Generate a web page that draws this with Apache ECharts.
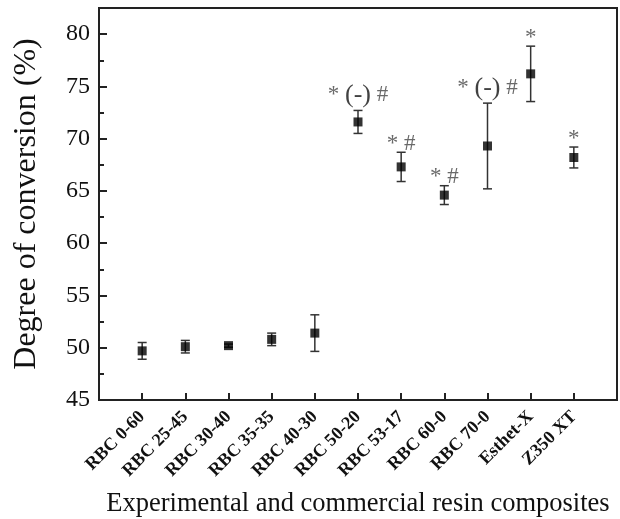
<!DOCTYPE html>
<html>
<head>
<meta charset="utf-8">
<script src="https://cdn.jsdelivr.net/npm/echarts@6/dist/echarts.min.js"></script>
<style>
html,body{margin:0;padding:0;background:#fff;}
#chart{width:620px;height:519px;}
</style>
</head>
<body>
<div id="chart"></div>
<script>
// values
var categories = ["RBC 0-60", "RBC 25-45", "RBC 30-40", "RBC 35-35", "RBC 40-30",
    "RBC 50-20", "RBC 53-17", "RBC 60-0", "RBC 70-0", "Esthet-X", "Z350 XT"];
var conversion = [49.7, 50.1, 50.2, 50.8, 51.4, 71.6, 67.3, 64.6, 69.3, 76.2, 68.2];
var errors = [0.8, 0.6, 0.15, 0.6, 1.75, 1.1, 1.4, 0.9, 4.1, 2.65, 1.0];
var marks = ["", "", "", "", "", "* (-) #", "* #", "* #", "* (-) #", "*", "*"];
var yTicks = [45, 50, 55, 60, 65, 70, 75, 80];

var serif = "Liberation Serif";

var points = [], bars = [], notes = [];
for (var i = 0; i < categories.length; i++) {
    points.push([i + 1, conversion[i]]);
    bars.push([i + 1, conversion[i] - errors[i], conversion[i] + errors[i]]);
    if (marks[i]) {
        // labels without the bracket sit a little lower
        var d = marks[i].indexOf("(-)") >= 0 ? 2 : -3;
        notes.push({value: [i + 1, conversion[i] + errors[i]], mark: marks[i], label: {distance: d}});
    }
}

var chart = echarts.init(document.getElementById("chart"));
chart.setOption({
    animation: false,
    grid: {left: 99, right: 3, top: 8, bottom: 119, outerBoundsMode: "none",
        show: true, borderColor: "#222", borderWidth: 2},
    xAxis: {
        type: "value", min: 0, max: 12, interval: 1,
        name: "Experimental and commercial resin composites",
        nameLocation: "middle", nameGap: 91,
        nameTextStyle: {fontFamily: serif, fontSize: 26.5, color: "#111"},
        axisLine: {lineStyle: {color: "#222", width: 2}},
        axisTick: {inside: true, length: 7, lineStyle: {color: "#222", width: 2}},
        splitLine: {show: false},
        axisLabel: {
            rotate: 45, margin: 14, fontFamily: serif, fontSize: 18, fontWeight: "bold", color: "#111",
            showMinLabel: false, showMaxLabel: false,
            formatter: function (v) { return categories[v - 1] || ""; }
        }
    },
    yAxis: {
        type: "value", min: 45, max: 82.5, interval: 5,
        name: "Degree of conversion (%)",
        nameLocation: "middle", nameGap: 56,
        nameTextStyle: {fontFamily: serif, fontSize: 32, color: "#111"},
        axisLine: {lineStyle: {color: "#222", width: 2}},
        axisTick: {inside: true, length: 8, lineStyle: {color: "#222", width: 2}},
        minorTick: {show: true, splitNumber: 2, length: 5, lineStyle: {color: "#222", width: 2}},
        splitLine: {show: false},
        axisLabel: {
            margin: 9, fontFamily: serif, fontSize: 24, color: "#111",
            formatter: function (v) { return yTicks.indexOf(v) >= 0 ? String(v) : ""; }
        }
    },
    series: [
        {
            type: "custom",
            data: bars,
            z: 2,
            renderItem: function (params, api) {
                var lo = api.coord([api.value(0), api.value(1)]);
                var hi = api.coord([api.value(0), api.value(2)]);
                var w = 4.5;
                var style = {stroke: "#333", lineWidth: 1.5};
                return {
                    type: "group",
                    children: [
                        {type: "line", shape: {x1: hi[0], y1: hi[1], x2: lo[0], y2: lo[1]}, style: style},
                        {type: "line", shape: {x1: hi[0] - w, y1: hi[1], x2: hi[0] + w, y2: hi[1]}, style: style},
                        {type: "line", shape: {x1: lo[0] - w, y1: lo[1], x2: lo[0] + w, y2: lo[1]}, style: style}
                    ]
                };
            }
        },
        {
            type: "scatter",
            data: points,
            symbol: "rect",
            symbolSize: 9,
            z: 3,
            itemStyle: {color: "#000"}
        },
        {
            type: "scatter",
            data: notes,
            symbolSize: 0,
            z: 4,
            label: {
                show: true, position: "top", distance: 2,
                fontFamily: serif, fontSize: 23, color: "#444",
                formatter: function (p) {
                    return p.data.mark.replace("(-)", "{p|(-)}");
                },
                rich: {p: {fontFamily: serif, fontSize: 26, color: "#111"}}
            }
        }
    ]
});
</script>
</body>
</html>
